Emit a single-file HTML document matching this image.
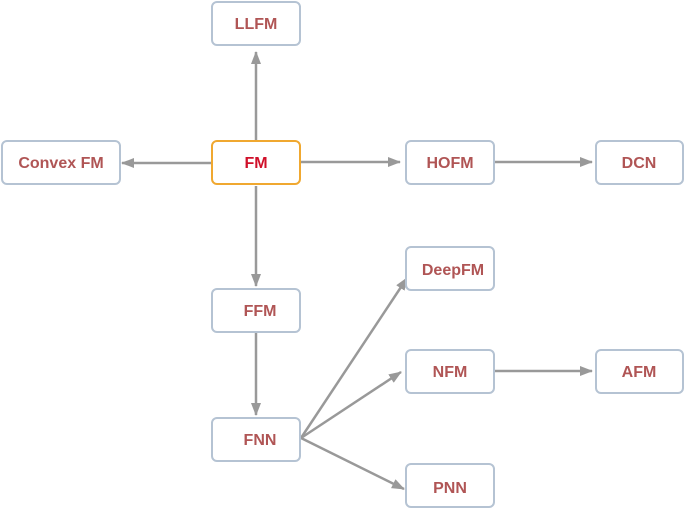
<!DOCTYPE html>
<html><head><style>
body{margin:0;background:#fff;width:685px;height:510px;overflow:hidden}
</style></head><body>
<svg width="685" height="510" xmlns="http://www.w3.org/2000/svg" font-family="Liberation Sans, sans-serif" font-weight="bold" font-size="16">
<defs><marker id="a" markerWidth="13" markerHeight="10" refX="12" refY="5" orient="auto" markerUnits="userSpaceOnUse"><path d="M0,0 L13,5 L0,10 z" fill="#999"/></marker></defs>
<g stroke="#999" stroke-width="2.5" fill="none" marker-end="url(#a)">
<line x1="256" y1="140" x2="256" y2="52"/>
<line x1="212" y1="163" x2="122" y2="163"/>
<line x1="301" y1="162" x2="400" y2="162"/>
<line x1="495" y1="162" x2="592" y2="162"/>
<line x1="256" y1="186" x2="256" y2="286"/>
<line x1="256" y1="333" x2="256" y2="415"/>
<line x1="301" y1="438" x2="407" y2="278"/>
<line x1="301" y1="438" x2="401" y2="372"/>
<line x1="301" y1="438" x2="404" y2="489"/>
<line x1="495" y1="371" x2="592" y2="371"/>
</g>
<g fill="#fff" stroke="#b5c3d3" stroke-width="2">
<rect x="212" y="2" width="88" height="43" rx="5"/>
<rect x="2" y="141" width="118" height="43" rx="5"/>
<rect x="212" y="141" width="88" height="43" rx="5" stroke="#f0a830"/>
<rect x="406" y="141" width="88" height="43" rx="5"/>
<rect x="596" y="141" width="87" height="43" rx="5"/>
<rect x="212" y="289" width="88" height="43" rx="5"/>
<rect x="212" y="418" width="88" height="43" rx="5"/>
<rect x="406" y="247" width="88" height="43" rx="5"/>
<rect x="406" y="350" width="88" height="43" rx="5"/>
<rect x="596" y="350" width="87" height="43" rx="5"/>
<rect x="406" y="464" width="88" height="43" rx="5"/>
</g>
<g fill="#b05555" text-anchor="middle">
<text x="256" y="29">LLFM</text>
<text x="61" y="168">Convex FM</text>
<text x="256" y="168" fill="#d0102a">FM</text>
<text x="450" y="168">HOFM</text>
<text x="639" y="168">DCN</text>
<text x="260" y="316">FFM</text>
<text x="260" y="445">FNN</text>
<text x="453" y="275">DeepFM</text>
<text x="450" y="377">NFM</text>
<text x="639" y="377">AFM</text>
<text x="450" y="493">PNN</text>
</g>
</svg>
</body></html>
